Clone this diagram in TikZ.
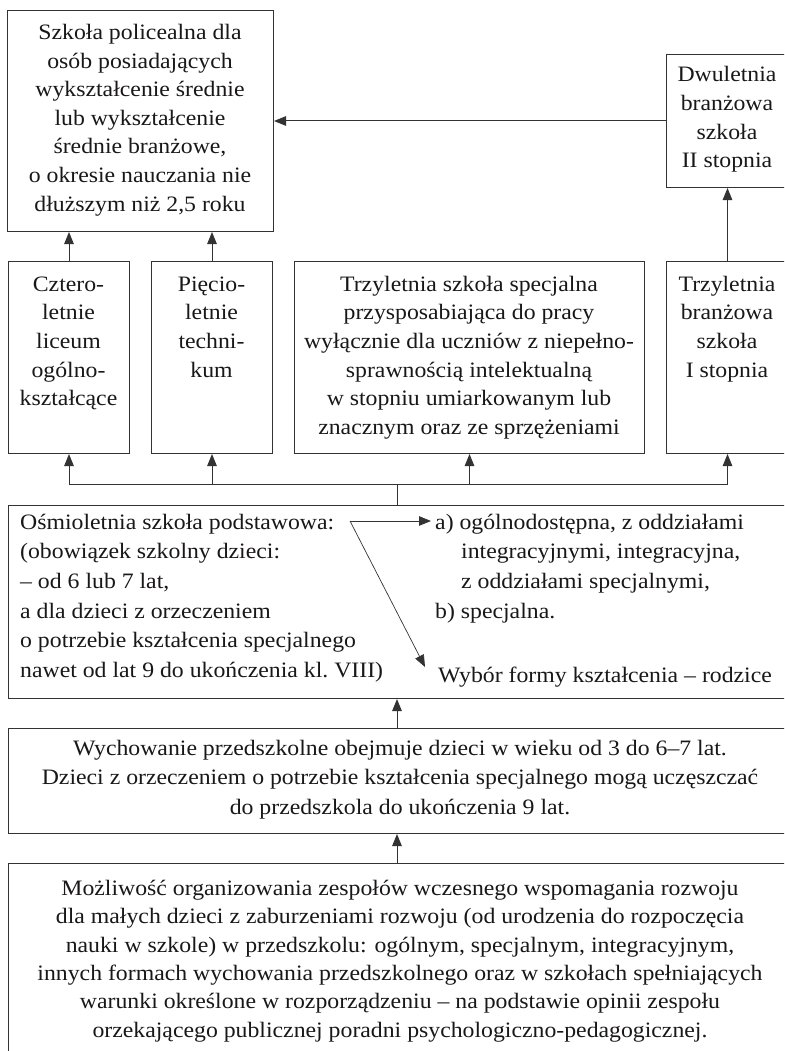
\documentclass[tikz,border=0pt]{standalone}
\usepackage{fontspec}
\setmainfont{Liberation Serif}[FakeStretch=1.08]
\usetikzlibrary{arrows.meta}
\definecolor{linec}{HTML}{333333}
\definecolor{textc}{HTML}{1A1718}
\newcommand\fl{\rule{0pt}{22pt}}
\newcommand\fsz[1]{\fontsize{22pt}{#1pt}\selectfont}
\begin{document}
\begin{tikzpicture}[x=1pt,y=-1pt,
  box/.style={draw=linec, line width=1pt, inner sep=0pt, anchor=north west},
  txt/.style={inner sep=0pt, text=textc, align=center, anchor=north, font=\fsz{28.6}},
  ltxt/.style={inner sep=0pt, text=textc, align=left, anchor=north west, font=\fsz{29.6}},
  arr/.style={draw=linec, line width=1pt, -{Triangle[length=12pt,width=9.5pt]}},
  ln/.style={draw=linec, line width=1pt}]
\useasboundingbox (0,0) rectangle (784,1051);
\fill[white] (0,0) rectangle (784,1051);
\clip (0,0) rectangle (784,1051);

% boxes
\node[box, minimum width=266pt, minimum height=221pt] (police) at (7,10) {};
\node[box, minimum width=122pt, minimum height=133pt] (dwu) at (666,54) {};
\node[box, minimum width=121pt, minimum height=192pt] (cztero) at (8,261) {};
\node[box, minimum width=121pt, minimum height=192pt] (piecio) at (151,261) {};
\node[box, minimum width=350pt, minimum height=192pt] (spec) at (294,261) {};
\node[box, minimum width=122pt, minimum height=192pt] (istop) at (666,261) {};
\node[box, minimum width=780pt, minimum height=193pt] (osm) at (8,505) {};
\node[box, minimum width=778pt, minimum height=105pt] (wych) at (8,728) {};
\node[box, minimum width=778pt, minimum height=230pt] (wczes) at (8,863) {};

% texts
\node[txt] (policeT) at (140,17.3) {\fl Szkoła policealna dla\\ osób posiadających\\ wykształcenie średnie\\ lub wykształcenie\\ średnie branżowe,\\ o okresie nauczania nie\\ dłuższym niż 2,5 roku};
\node[txt] (dwuT) at (727,59.7) {\fl Dwuletnia\\ branżowa\\ szkoła\\ II stopnia};
\node[txt] (czteroT) at (68.5,269) {\fl Cztero-\\ letnie\\ liceum\\ ogólno-\\ kształcące};
\node[txt] (piecioT) at (211.5,269) {\fl Pięcio-\\ letnie\\ techni-\\ kum};
\node[txt] (specT) at (469,269) {\fl Trzyletnia szkoła specjalna\\ przysposabiająca do pracy\\ wyłącznie dla uczniów z niepełno-\\ sprawnością intelektualną\\ w stopniu umiarkowanym lub\\ znacznym oraz ze sprzężeniami};
\node[txt] (istopT) at (727,269) {\fl Trzyletnia\\ branżowa\\ szkoła\\ I stopnia};
\node[ltxt] (osmT) at (20,507) {\fl Ośmioletnia szkoła podstawowa:\\ (obowiązek szkolny dzieci:\\ – od 6 lub 7 lat,\\ a dla dzieci z orzeczeniem\\ o potrzebie kształcenia specjalnego\\ nawet od lat 9 do ukończenia kl.\ VIII)};
\node[ltxt] (formyT) at (435,507) {\fl a) ogólnodostępna, z oddziałami\\ \hspace*{26pt}integracyjnymi, integracyjna,\\ \hspace*{26pt}z oddziałami specjalnymi,\\ b) specjalna.};
\node[ltxt] (wyborT) at (438,660) {\fl Wybór formy kształcenia – rodzice};
\node[txt, font=\fsz{29.5}] (wychT) at (400,733) {\fl Wychowanie przedszkolne obejmuje dzieci w wieku od 3 do 6–7 lat.\\ Dzieci z orzeczeniem o potrzebie kształcenia specjalnego mogą uczęszczać\\ do przedszkola do ukończenia 9 lat.};
\node[txt, font=\fsz{28.4}] (wczesT) at (400,873) {\fl Możliwość organizowania zespołów wczesnego wspomagania rozwoju\\ dla małych dzieci z zaburzeniami rozwoju (od urodzenia do rozpoczęcia\\ nauki w szkole) w przedszkolu: ogólnym, specjalnym, integracyjnym,\\ innych formach wychowania przedszkolnego oraz w szkołach spełniających\\ warunki określone w rozporządzeniu – na podstawie opinii zespołu\\ orzekającego publicznej poradni psychologiczno-pedagogicznej.};

% connectors
\coordinate (j) at (397,484);
\coordinate (split) at (350,521);
\coordinate (aTip) at (431,521);
\coordinate (wTip) at (425,667);

\draw[arr] (dwu.west) -- (dwu.west -| police.east);
\draw[arr] (cztero.north) -- (cztero.north |- police.south);
\draw[arr] (piecio.north) -- (piecio.north |- police.south);
\draw[arr] (istop.north) -- (dwu.south);
\draw[ln] (j |- osm.north) -- (j);
\draw[arr] (j) -| (cztero.south);
\draw[arr] (j) -| (piecio.south);
\draw[arr] (j) -| (spec.south);
\draw[arr] (j) -| (istop.south);
\draw[arr] (split) -- (aTip);
\draw[arr, line width=0.7pt] (split) -- (wTip);
\draw[arr] (wych.north -| j) -- (osm.south -| j);
\draw[arr] (wczes.north -| j) -- (wych.south -| j);
\end{tikzpicture}
\end{document}
